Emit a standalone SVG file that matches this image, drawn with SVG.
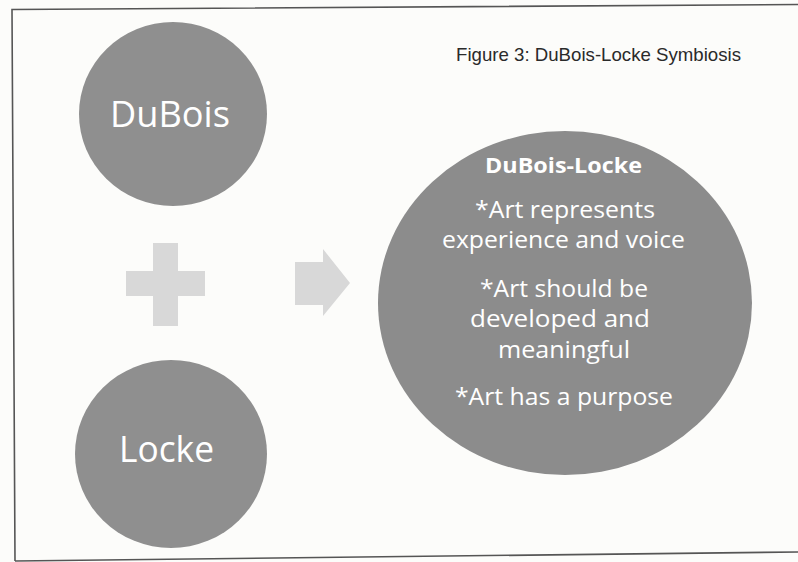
<svg xmlns="http://www.w3.org/2000/svg" width="798" height="562" viewBox="0 0 798 562">
  <style>
    .bg { fill: #fcfcfa; }
    .frame { fill: none; stroke: #555; stroke-width: 1.6; }
    .node { fill: #8f8f8f; }
    .big { fill: #8c8c8c; }
    .sym { fill: #d8d8d8; }
    .label { font-family: "Open Sans", "Noto Sans", sans-serif; fill: #ffffff; text-anchor: middle; }
    .name { font-size: 36px; }
    .body { font-size: 23px; }
    .head { font-size: 22px; font-weight: bold; }
    .title { font-family: "Liberation Sans Narrow", "Liberation Sans", Arial, sans-serif; font-size: 19px; fill: #2a2a2a; }
  </style>

  <rect class="bg" x="0" y="0" width="798" height="562"/>

  <!-- page frame -->
  <polyline class="frame" points="798,4.5 12,9.5 15,561"/>
  <line class="frame" x1="15" y1="561" x2="798" y2="552"/>

  <text class="title" x="456" y="61" textLength="285" lengthAdjust="spacingAndGlyphs">Figure 3: DuBois-Locke Symbiosis</text>

  <g id="dubois">
    <ellipse class="node" cx="173" cy="114" rx="94" ry="92"/>
    <text class="label name" x="170" y="127" textLength="120" lengthAdjust="spacingAndGlyphs">DuBois</text>
  </g>

  <g id="locke">
    <ellipse class="node" cx="171" cy="454" rx="96" ry="94"/>
    <text class="label name" x="166.5" y="462" textLength="95" lengthAdjust="spacingAndGlyphs">Locke</text>
  </g>

  <g id="dubois-locke">
    <ellipse class="big" cx="565" cy="303" rx="187" ry="172"/>
    <text class="label head" x="563.5" y="173" textLength="157" lengthAdjust="spacingAndGlyphs">DuBois-Locke</text>
    <text class="label body" x="565" y="218" textLength="180" lengthAdjust="spacingAndGlyphs">*Art represents</text>
    <text class="label body" x="563.5" y="248" textLength="243" lengthAdjust="spacingAndGlyphs">experience and voice</text>
    <text class="label body" x="564" y="297" textLength="168" lengthAdjust="spacingAndGlyphs">*Art should be</text>
    <text class="label body" x="560" y="327" textLength="180" lengthAdjust="spacingAndGlyphs">developed and</text>
    <text class="label body" x="564" y="358" textLength="132" lengthAdjust="spacingAndGlyphs">meaningful</text>
    <text class="label body" x="564" y="405" textLength="218" lengthAdjust="spacingAndGlyphs">*Art has a purpose</text>
  </g>

  <g id="connectors">
    <!-- plus sign joining the two inputs -->
    <path class="sym" d="M153,243 H178 V271 H205 V296 H178 V326 H153 V296 H126 V271 H153 Z"/>
    <!-- block arrow toward the combined node -->
    <path class="sym" d="M295,262 H323 V249 L350,283 L323,316 V305 H295 Z"/>
  </g>
</svg>
